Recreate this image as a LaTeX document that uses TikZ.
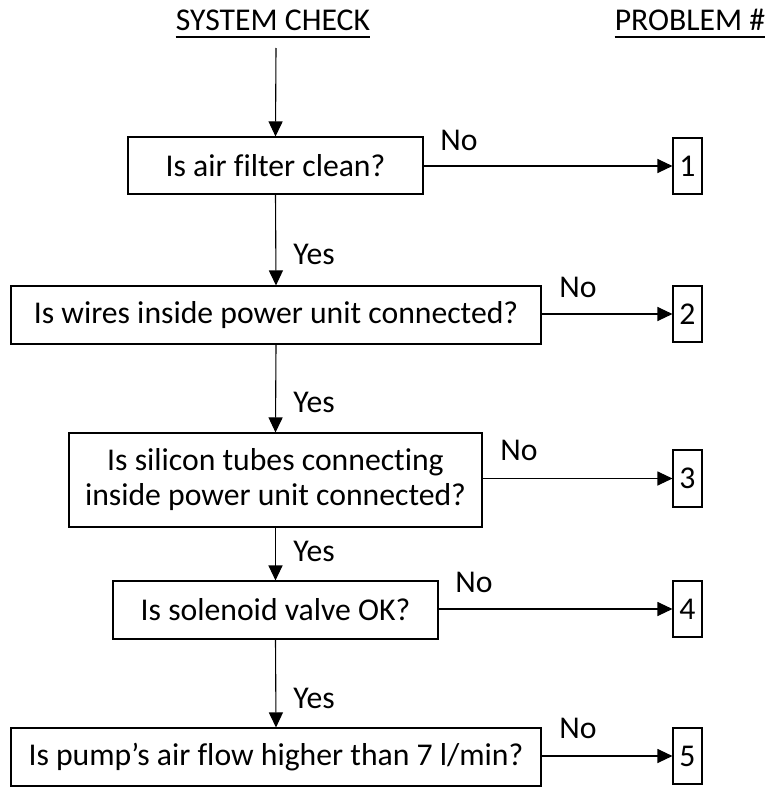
\documentclass[tikz,border=0pt]{standalone}
\usepackage{fontspec}
\setmainfont{Carlito}[Ligatures={NoCommon}]
\usetikzlibrary{arrows.meta,calc}

\begin{document}
\begin{tikzpicture}[x=1pt,y=-1pt,
  every node/.style={font=\fontsize{31.7}{35}\selectfont, inner sep=0pt},
  qbox/.style={draw, line width=1.1pt, minimum height=58pt, align=center},
  numbox/.style={draw, line width=1.1pt, minimum width=29pt, minimum height=56pt},
  flow/.style={line width=1.1pt, -{Triangle[length=15pt,width=14pt]}},
  uline/.style={line width=1.4pt}
]
\useasboundingbox (0,0) rectangle (769,787);

% column headings
\node[anchor=base] (sys) at (273,30) {SYSTEM CHECK};
\node[anchor=base] (prob) at (690,30) {PROBLEM \#};
\draw[uline] ($(sys.base west)+(0,7)$) -- ($(sys.base east)+(0,7)$);
\draw[uline] ($(prob.base west)+(0,7)$) -- ($(prob.base east)+(0,7)$);

\coordinate (start) at (276,48);

% questions
\node[qbox, minimum width=295pt, minimum height=57pt] (q1) at (275.5,165.5) {Is air filter clean?};
\node[qbox, minimum width=530pt] (q2) at (276,315) {Is wires inside power unit connected?};
\node[qbox, minimum width=413pt, minimum height=94pt] (q3) at (275.5,480) {Is silicon tubes connecting\\inside power unit connected?};
\node[qbox, minimum width=325pt] (q4) at (275.5,610) {Is solenoid valve OK?};
\node[qbox, minimum width=530pt] (q5) at (276,757) {Is pump’s air flow higher than 7 l/min?};

% problem numbers
\node[numbox] (p1) at (687.5,166) {1};
\node[numbox] (p2) at (687.5,314) {2};
\node[numbox, minimum height=57pt] (p3) at (687.5,478.5) {3};
\node[numbox] (p4) at (687.5,609) {4};
\node[numbox] (p5) at (687.5,756) {5};

% "Yes" path
\draw[flow] (start) -- (q1.north);
\draw[flow] (q1.south) -- (q2.north);
\draw[flow] (q2.south) -- (q3.north);
\draw[flow] (q3.south) -- (q4.north);
\draw[flow] (q4.south) -- (q5.north);

\node (y1) at (314,254) {Yes};
\node (y2) at (314,402) {Yes};
\node (y3) at (314,551) {Yes};
\node (y4) at (314,698) {Yes};

% "No" branches
\draw[flow] (q1.east |- p1.west) -- (p1.west);
\draw[flow] (q2.east |- p2.west) -- (p2.west);
\draw[flow] (q3.east |- p3.west) -- (p3.west);
\draw[flow] (q4.east |- p4.west) -- (p4.west);
\draw[flow] (q5.east |- p5.west) -- (p5.west);

\node (n1) at (459,140) {No};
\node (n2) at (578,287) {No};
\node (n3) at (519,450) {No};
\node (n4) at (474,582) {No};
\node (n5) at (578,728) {No};
\end{tikzpicture}
\end{document}
